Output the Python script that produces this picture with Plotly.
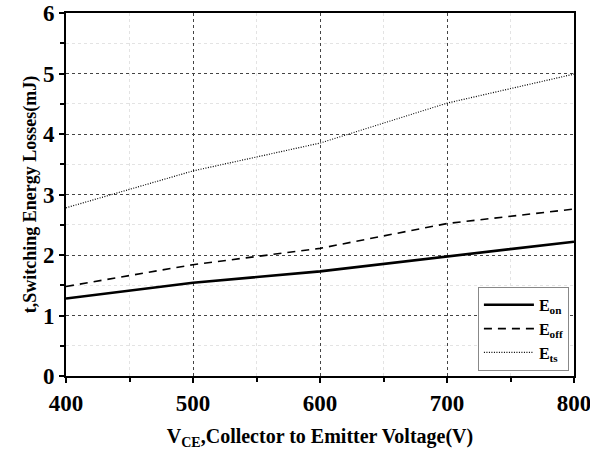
import plotly.graph_objects as go

# Collector-emitter voltage (V)
vce = [400, 500, 600, 700, 800]

# Switching energy losses (mJ)
e_on = [1.28, 1.54, 1.73, 1.98, 2.22]
e_off = [1.48, 1.84, 2.11, 2.52, 2.76]
e_ts = [2.78, 3.39, 3.85, 4.51, 4.99]

series_names = ["E<sub>on</sub>", "E<sub>off</sub>", "E<sub>ts</sub>"]

FONT = "Liberation Serif"

fig = go.Figure()
fig.add_trace(go.Scatter(x=vce, y=e_on, mode="lines", name=series_names[0],
                         line=dict(color="black", width=2.6, dash="solid")))
fig.add_trace(go.Scatter(x=vce, y=e_off, mode="lines", name=series_names[1],
                         line=dict(color="black", width=1.6, dash="8px,6px")))
fig.add_trace(go.Scatter(x=vce, y=e_ts, mode="lines", name=series_names[2],
                         line=dict(color="black", width=1.2, dash="1px,1.5px")))

axis_common = dict(
    showline=True, linecolor="black", linewidth=2, mirror=True,
    ticks="outside", ticklen=5, tickwidth=1.5, tickcolor="black",
    showgrid=True, gridcolor="#444", griddash="dot", gridwidth=1,
    zeroline=False, automargin=False, ticklabeloverflow="allow",
    tickfont=dict(family=FONT, size=23, color="black", weight="bold"),
)

fig.update_xaxes(
    range=[400, 800], dtick=100,
    minor=dict(dtick=50, ticks="outside", ticklen=4, tickcolor="black",
               showgrid=True, gridcolor="#e3e3e3", griddash="dot"),
    title=dict(text="V<sub>CE</sub>,Collector to Emitter Voltage(V)",
               font=dict(family=FONT, size=20, color="black", weight="bold"),
               standoff=22),
    **axis_common,
)
fig.update_yaxes(
    range=[0, 6], dtick=1,
    minor=dict(dtick=0.5, ticks="outside", ticklen=4, tickcolor="black",
               showgrid=True, gridcolor="#e3e3e3", griddash="dot"),
    title=dict(text="t,Switching Energy Losses(mJ)",
               font=dict(family=FONT, size=18, color="black", weight="bold"),
               standoff=2),
    **axis_common,
)

fig.update_layout(
    width=590, height=450,
    margin=dict(l=66, r=16, t=13, b=74),
    paper_bgcolor="white", plot_bgcolor="white",
    legend=dict(
        x=0.99, y=0.014, xanchor="right", yanchor="bottom",
        bgcolor="white", bordercolor="#888", borderwidth=1,
        font=dict(family=FONT, size=16, color="black", weight="bold"),
        itemwidth=50, tracegroupgap=2,
    ),
    showlegend=True,
)

# drop the default 8px page margin so the figure fills the window
fig.write_html("out.html", config={"displayModeBar": False},
               post_script="document.body.style.margin = '0';")
